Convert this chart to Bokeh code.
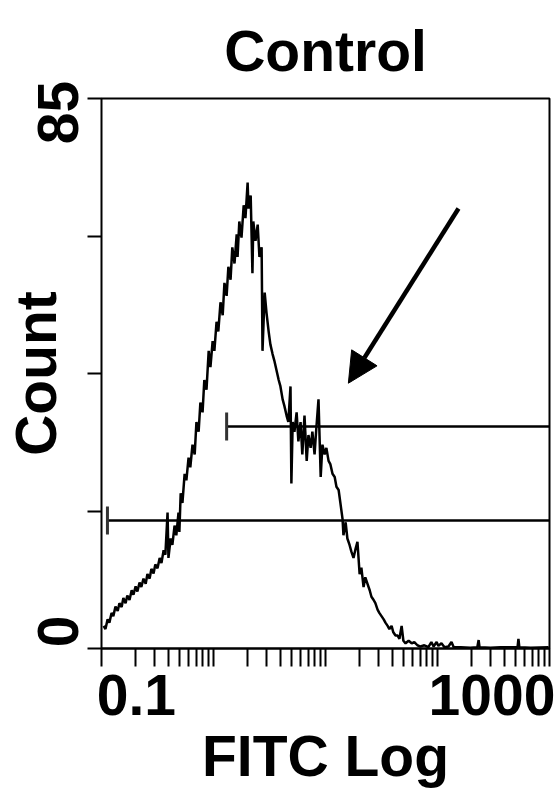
import math
from bokeh.plotting import figure
from bokeh.models import Arrow, NormalHead, FixedTicker, ColumnDataSource
from bokeh.embed import file_html
from bokeh.resources import INLINE

# ---- data ----
# channel on a 1024-channel, 4-decade log scale (0 -> 0.1, 1024 -> 1000)
channel = [5, 9, 14, 18, 23, 27, 32, 37, 41, 46, 50, 55, 59, 64, 69, 73, 78, 82, 87, 91,
           96, 101, 105, 110, 114, 119, 123, 128, 133, 137, 142, 146, 151, 153, 158, 162,
           167, 171, 176, 178, 181, 185, 190, 194, 199, 203, 208, 213, 217, 222, 226, 231,
           235, 240, 245, 249, 254, 258, 263, 267, 272, 277, 281, 286, 290, 295, 299, 304,
           309, 311, 315, 320, 325, 329, 334, 336, 341, 345, 347, 352, 357, 361, 366, 368,
           373, 377, 382, 386, 391, 395, 400, 405, 409, 414, 418, 423, 427, 432, 434, 437,
           441, 446, 450, 455, 459, 464, 469, 473, 478, 482, 487, 491, 496, 501, 505, 510,
           514, 519, 523, 528, 533, 537, 542, 546, 551, 553, 558, 562, 567, 571, 576, 581,
           585, 590, 594, 599, 603, 608, 613, 617, 622, 626, 631, 635, 640, 645, 649, 654,
           658, 663, 667, 672, 677, 681, 686, 690, 695, 702, 709, 715, 722, 729, 738, 747,
           754, 759, 766, 770, 777, 784, 793, 800, 805, 821, 843, 859, 862, 864, 889, 912,
           951, 953, 955, 981, 1022]
count = [3.5, 3.0, 4.5, 4.0, 5.5, 5.0, 6.5, 5.8, 7.0, 6.4, 7.8, 7.0, 8.2, 7.5, 9.0, 8.3,
         9.6, 8.8, 10.2, 9.5, 10.8, 10.0, 11.5, 10.8, 12.3, 11.6, 13.0, 12.4, 14.0, 13.2,
         15.2, 14.5, 21.0, 14.0, 17.0, 16.0, 19.0, 17.5, 21.0, 18.0, 24.0, 22.5, 27.0, 26.0,
         29.5, 28.0, 31.5, 30.0, 35.0, 33.5, 38.0, 36.5, 41.5, 40.0, 46.0, 43.5, 47.5, 46.0,
         50.5, 49.0, 53.5, 51.5, 56.5, 54.5, 59.0, 57.0, 62.0, 59.5, 64.0, 60.5, 66.0, 63.5,
         68.5, 66.5, 72.0, 68.0, 70.0, 58.0, 66.0, 63.0, 65.5, 60.5, 62.0, 46.0, 55.0, 52.0,
         49.0, 47.0, 45.5, 44.5, 43.0, 41.5, 40.5, 38.5, 37.5, 36.0, 35.0, 40.5, 25.5, 35.0,
         33.5, 36.5, 32.0, 35.0, 30.0, 36.0, 29.0, 33.0, 31.0, 33.5, 30.0, 34.0, 38.5, 26.5,
         31.5, 30.0, 31.0, 29.0, 28.5, 27.0, 26.5, 25.0, 24.5, 22.5, 20.0, 17.5, 19.5, 17.0,
         16.0, 15.0, 14.0, 15.5, 16.5, 11.5, 12.5, 9.5, 11.0, 10.0, 9.0, 8.0, 7.5, 7.0, 6.0,
         5.5, 5.0, 4.5, 4.0, 3.5, 3.0, 3.5, 2.5, 2.0, 2.0, 1.5, 3.5, 1.2, 0.8, 1.2, 0.8, 1.0,
         0.5, 0.3, 0.5, 0.2, 1.0, 0.3, 1.0, 0.4, 0.8, 0.2, 0.3, 1.0, 0.2, 0.2, 0.1, 0.2, 1.3,
         0.2, 0.1, 0.2, 0.2, 1.5, 0.2, 0.1, 0.2]

# gates (marker regions): start FITC value, count level
gate_start = [0.113, 1.31]
gate_end = [1000, 1000]
gate_level = [19.8, 34.3]

# arrow: tail and tip (FITC, count)
arrow_tail = (154, 68.0)
arrow_tip = (16.0, 41.0)

# tick marks
x_tick_marks = [k * 10 ** d for d in range(-1, 3) for k in range(1, 10)] + [1000]
y_tick_marks = [0, 21.25, 42.5, 63.75, 85]
# tick labels (placed as in the original figure, label text -> anchor value)
x_label_pos = [0.205, 306.7]
x_label_txt = ["0.1", "1000"]
y_label_pos = [2.63, 82.84]
y_label_txt = ["0", "85"]

fitc = [10 ** (c / 256.0 - 1) for c in channel]

FONT = "Liberation Sans"
FS = "57px"

p = figure(width=560, height=796, x_axis_type="log", x_range=(0.1, 1000), y_range=(0, 85),
           output_backend="svg", toolbar_location=None,
           min_border_left=101, min_border_right=11, min_border_top=98, min_border_bottom=148)
p.title.text = "Control"
p.title.text_font = FONT
p.title.text_font_size = FS
p.title.text_font_style = "bold"
p.title.text_color = "black"
p.title.align = "center"
p.title.standoff = 32

p.xgrid.visible = False
p.ygrid.visible = False
p.background_fill_color = "white"
p.border_fill_color = "white"
p.outline_line_color = "black"
p.outline_line_width = 2

p.xaxis.ticker = FixedTicker(ticks=x_label_pos, minor_ticks=x_tick_marks)
p.xaxis.major_label_overrides = dict(zip(x_label_pos, x_label_txt))
p.yaxis.ticker = FixedTicker(ticks=y_label_pos, minor_ticks=y_tick_marks)
p.yaxis.major_label_overrides = dict(zip(y_label_pos, y_label_txt))
p.yaxis.major_label_orientation = "vertical"
for ax in (p.xaxis, p.yaxis):
    ax.axis_line_width = 2
    ax.axis_line_color = "black"
    ax.major_tick_line_color = None
    ax.major_tick_out = 0
    ax.major_tick_in = 0
    ax.minor_tick_line_width = 2
    ax.minor_tick_line_color = "black"
    ax.minor_tick_in = 0
    ax.major_label_text_font = FONT
    ax.major_label_text_font_size = FS
    ax.major_label_text_font_style = "bold"
    ax.major_label_text_color = "black"
    ax.axis_label_text_font = FONT
    ax.axis_label_text_font_size = FS
    ax.axis_label_text_font_style = "bold"
    ax.axis_label_text_color = "black"
p.yaxis.axis_line_color = None
p.xaxis.minor_tick_out = 18
p.yaxis.minor_tick_out = 14
p.xaxis.major_label_standoff = 8
p.yaxis.major_label_standoff = 9
p.xaxis.axis_label = "FITC Log"
p.yaxis.axis_label = "Count"
p.xaxis.axis_label_standoff = 6
p.yaxis.axis_label_standoff = -32

# histogram
src = ColumnDataSource(dict(x=fitc, y=count))
p.line("x", "y", source=src, line_color="black", line_width=2.5)

# gates
p.segment(x0=gate_start, y0=gate_level, x1=gate_end, y1=gate_level,
          line_color="black", line_width=2.5)
p.scatter(x=gate_start, y=gate_level, marker="dash", size=28, angle=math.pi / 2,
          line_color="#333333", line_width=3)

# arrow
p.add_layout(Arrow(x_start=arrow_tail[0], y_start=arrow_tail[1],
                   x_end=arrow_tip[0], y_end=arrow_tip[1],
                   line_color="black", line_width=4.5,
                   end=NormalHead(size=30, fill_color="black", line_color="black")))

open("out.html", "w").write(file_html(p, INLINE))
